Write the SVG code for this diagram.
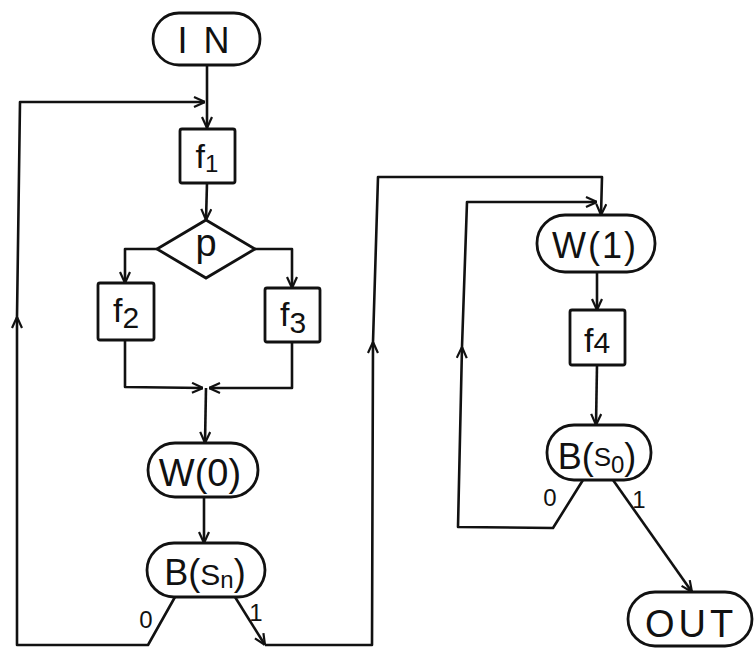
<svg xmlns="http://www.w3.org/2000/svg" width="754" height="648" viewBox="0 0 754 648">
<defs>
<style>
.n{fill:#fff;stroke:#111;stroke-width:2.8}
.c{fill:none;stroke:#111;stroke-width:2.6;stroke-linejoin:round}
.t{font-family:"Liberation Sans",Arial,sans-serif;fill:#111;text-anchor:middle}
.l{font-family:"Liberation Sans",Arial,sans-serif;fill:#111;font-size:24px;text-anchor:middle}
</style>
<marker id="a" viewBox="0 0 12 12" refX="12" refY="6" markerWidth="12" markerHeight="12" markerUnits="userSpaceOnUse" orient="auto">
<path d="M1,1 L12,6 L1,11" fill="none" stroke="#111" stroke-width="2.2"/>
</marker>
</defs>
<rect width="754" height="648" fill="#fff"/>
<g id="connectors">
<path class="c" d="M207,65 L207,128" marker-end="url(#a)"/>
<path class="c" d="M175,597 L148,645 L17,645 L17,317" marker-end="url(#a)"/>
<path class="c" d="M17,317 L20,102 L205,102" marker-end="url(#a)"/>
<path class="c" d="M207,183 L206,220" marker-end="url(#a)"/>
<path class="c" d="M157,249 L125,249 L125,283" marker-end="url(#a)"/>
<path class="c" d="M255,249 L292,249 L292,288" marker-end="url(#a)"/>
<path class="c" d="M125,340 L125,387 L203,388" marker-end="url(#a)"/>
<path class="c" d="M292,342 L292,388 L209,388" marker-end="url(#a)"/>
<path class="c" d="M206,388 L205,443" marker-end="url(#a)"/>
<path class="c" d="M204,497 L204,543" marker-end="url(#a)"/>
<path class="c" d="M235,597 L265,645" marker-end="url(#a)"/>
<path class="c" d="M265,645 L372,645 L373,342" marker-end="url(#a)"/>
<path class="c" d="M373,342 L378,177 L602,177 L601,215" marker-end="url(#a)"/>
<path class="c" d="M583,480 L553,528 L458,527 L462,347" marker-end="url(#a)"/>
<path class="c" d="M462,347 L467,202 L597,202" marker-end="url(#a)"/>
<path class="c" d="M597,272 L597,310" marker-end="url(#a)"/>
<path class="c" d="M597,365 L596,425" marker-end="url(#a)"/>
<path class="c" d="M613,480 L692,592" marker-end="url(#a)"/>
<text class="l" x="146" y="628">0</text>
<text class="l" x="256" y="621">1</text>
<text class="l" x="550" y="506">0</text>
<text class="l" x="639" y="508">1</text>
</g>
<g id="in">
<rect class="n" x="153" y="13" width="107" height="52" rx="26"/>
<text class="t" x="205" y="53" font-size="36" letter-spacing="3">I N</text>
</g>
<g id="f1">
<rect class="n" x="180" y="129" width="55" height="54" rx="2"/>
<text class="t" x="207" y="168" font-size="34">f<tspan font-size="24" dy="4">1</tspan></text>
</g>
<g id="p">
<polygon class="n" points="206,220 255,249 206,278 157,249"/>
<text class="t" x="206" y="256" font-size="38">p</text>
</g>
<g id="f2">
<rect class="n" x="98" y="283" width="56" height="57" rx="2"/>
<text class="t" x="126" y="322" font-size="34">f<tspan font-size="30" dy="6">2</tspan></text>
</g>
<g id="f3">
<rect class="n" x="265" y="288" width="55" height="54" rx="2"/>
<text class="t" x="293" y="326" font-size="34">f<tspan font-size="30" dy="7">3</tspan></text>
</g>
<g id="w0">
<rect class="n" x="148" y="443" width="110" height="54" rx="27"/>
<text class="t" x="200" y="486" font-size="38">W(0)</text>
</g>
<g id="bsn">
<rect class="n" x="147" y="543" width="118" height="54" rx="27"/>
<text class="t" x="205" y="585" font-size="36">B(<tspan font-size="30">S</tspan><tspan font-size="24" dy="3">n</tspan><tspan dy="-3">)</tspan></text>
</g>
<g id="w1">
<rect class="n" x="537" y="215" width="118" height="57" rx="28"/>
<text class="t" x="595" y="258" font-size="36" letter-spacing="2">W(1)</text>
</g>
<g id="f4">
<rect class="n" x="570" y="310" width="55" height="55" rx="2"/>
<text class="t" x="597" y="352" font-size="34">f<tspan font-size="30" dy="1">4</tspan></text>
</g>
<g id="bs0">
<rect class="n" x="547" y="425" width="104" height="55" rx="27"/>
<text class="t" x="597" y="469" font-size="36">B(<tspan font-size="26" dy="-3">S</tspan><tspan font-size="24" dy="7">0</tspan><tspan dy="-4">)</tspan></text>
</g>
<g id="out">
<rect class="n" x="628" y="592" width="124" height="54" rx="27"/>
<text class="t" x="691" y="637" font-size="38" letter-spacing="4">OUT</text>
</g>
</svg>
